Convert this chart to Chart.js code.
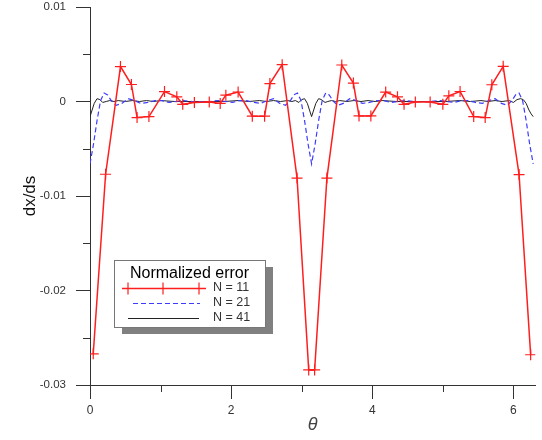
<!DOCTYPE html>
<html>
<head>
<meta charset="utf-8">
<script src="https://cdn.jsdelivr.net/npm/chart.js@4.4.1/dist/chart.umd.min.js"></script>
<style>
  body { margin: 0; background: #fff; }
  canvas { display: block; }
</style>
</head>
<body>
<canvas id="errChart" width="542" height="440"></canvas>
<script>
// N = 11 (sample points, with + markers)
var n11X = [0.046, 0.221, 0.432, 0.587, 0.667, 0.835, 1.056, 1.23, 1.314, 1.479,
            1.69, 1.845, 1.925, 2.099, 2.3, 2.474, 2.549, 2.723, 2.934, 3.099,
            3.183, 3.357, 3.568, 3.732, 3.812, 3.98, 4.19, 4.357, 4.45, 4.61,
            4.82, 5.0, 5.085, 5.244, 5.437, 5.6, 5.694, 5.855, 6.08, 6.244];
var n11Y = [-0.0267, -0.0077, 0.0037, 0.0018, -0.0017, -0.0016, 0.00105, 0.0005, -0.0003, -0.0001,
            -0.00005, -0.0002, 0.00067, 0.001, -0.00155, -0.00155, 0.0019, 0.0039, -0.0081, -0.0284,
            -0.0284, -0.0081, 0.00386, 0.00195, -0.00153, -0.00153, 0.001, 0.0005, -0.0003, -0.00005,
            -0.00005, -0.0003, 0.0006, 0.00106, -0.0016, -0.0017, 0.00177, 0.00372, -0.00773, -0.0268];

// N = 21 (dashed blue)
var n21X = [0, 0.05, 0.1, 0.15, 0.2, 0.25, 0.3, 0.37, 0.45, 0.54, 0.63, 0.72, 0.82, 0.92, 1.02, 1.12, 1.22, 1.32, 1.45, 1.57,
            1.69, 1.82, 1.92, 2.02, 2.12, 2.22, 2.32, 2.42, 2.51, 2.6, 2.69, 2.77, 2.84, 2.89, 2.94, 2.99, 3.04, 3.09, 3.14,
            3.19, 3.24, 3.29, 3.34, 3.39, 3.44, 3.51, 3.59, 3.68, 3.77, 3.86, 3.96, 4.06, 4.16, 4.26, 4.36, 4.46, 4.59, 4.71,
            4.83, 4.96, 5.06, 5.16, 5.26, 5.36, 5.46, 5.56, 5.65, 5.74, 5.83, 5.91, 5.98, 6.03, 6.08, 6.13, 6.18, 6.23, 6.28];
var n21Y = [-0.0066, -0.0045, -0.002, 0.0001, 0.0009, 0.0007, 0.0001, -0.0004, -0.0002, 0.0003, 0.0001, -0.0002, -0.0001, 0.0001, 0.0001, -0.0001, 0, 0.0001, 0, 0,
            0, 0.0001, 0, -0.0001, 0.0001, 0.0001, -0.0001, -0.0002, 0.0001, 0.0003, -0.0002, -0.0004, 0.0001, 0.0007, 0.0009, 0.0001, -0.002, -0.0045, -0.0066,
            -0.0045, -0.002, 0.0001, 0.0009, 0.0007, 0.0001, -0.0004, -0.0002, 0.0003, 0.0001, -0.0002, -0.0001, 0.0001, 0.0001, -0.0001, 0, 0.0001, 0, 0,
            0, 0.0001, 0, -0.0001, 0.0001, 0.0001, -0.0001, -0.0002, 0.0001, 0.0003, -0.0002, -0.0004, 0.0001, 0.0007, 0.0009, 0.0001, -0.002, -0.0045, -0.0066];

// N = 41 (solid black)
var n41X = [0, 0.03, 0.06, 0.1, 0.14, 0.18, 0.23, 0.28, 0.34, 0.4, 0.5, 0.6, 0.7, 0.8, 0.9, 1.0, 1.2, 1.57,
            1.9, 2.1, 2.25, 2.4, 2.5, 2.6, 2.7, 2.8, 2.86, 2.91, 2.96, 3.0, 3.04, 3.08, 3.11, 3.14,
            3.17, 3.2, 3.24, 3.28, 3.33, 3.37, 3.42, 3.48, 3.54, 3.64, 3.74, 3.84, 3.94, 4.04, 4.14, 4.34, 4.71,
            5.04, 5.24, 5.39, 5.54, 5.64, 5.74, 5.84, 5.94, 6.0, 6.05, 6.1, 6.14, 6.18, 6.22, 6.25, 6.28];
var n41Y = [-0.0016, -0.0009, -0.0002, 0.0003, 0.0002, -0.0001, 0, 0.0001, 0, 0.0001, 0, 0.0001, 0, 0.0001, 0, 0.0001, 0, 0,
            0, 0.0001, 0, 0.0001, 0, 0.0001, 0, 0.0001, 0, 0.0001, -0.0001, 0.0002, 0.0003, -0.0002, -0.0009, -0.0016,
            -0.0009, -0.0002, 0.0003, 0.0002, -0.0001, 0, 0.0001, 0, 0.0001, 0, 0.0001, 0, 0.0001, 0, 0.0001, 0, 0,
            0, 0.0001, 0, 0.0001, 0, 0.0001, 0, 0.0001, -0.0001, 0.0002, 0.0003, 0.0002, -0.0002, -0.0009, -0.0013, -0.0016];

var xTicks = [0, 2, 4, 6],
    xMinorTicks = [1, 3, 5],
    yTicks = [0.01, 0, -0.01, -0.02, -0.03],
    yMinorTicks = [0.005, -0.005, -0.015, -0.025],
    yTickLabels = ['0.01', '0', '-0.01', '-0.02', '-0.03'];

var seriesNames = ['N = 11', 'N = 21', 'N = 41'];

function toPoints(xs, ys) {
    var pts = [];
    for (var i = 0; i < xs.length; i++) {
        pts.push({x: xs[i], y: ys[i]});
    }
    return pts;
}

var axisColor = '#333';

// 次刻度线 (minor ticks)
var minorTicks = {
    id: 'minorTicks',
    afterDraw: function(chart) {
        var c = chart.ctx, xs = chart.scales.x, ys = chart.scales.y;
        c.save();
        c.strokeStyle = axisColor;
        c.lineWidth = 1;
        c.beginPath();
        xMinorTicks.forEach(function(v) {
            var px = Math.round(xs.getPixelForValue(v)) + 0.5;
            c.moveTo(px, xs.top);
            c.lineTo(px, xs.top + 7);
        });
        yMinorTicks.forEach(function(v) {
            var py = Math.round(ys.getPixelForValue(v)) + 0.5;
            c.moveTo(ys.right - 7, py);
            c.lineTo(ys.right, py);
        });
        c.stroke();
        c.restore();
    }
};

// 图例 (legend box with shadow)
var legendBox = {
    id: 'legendBox',
    afterDraw: function(chart) {
        var c = chart.ctx, ds = chart.data.datasets;
        var bx = 114, by = 260, bw = 151, bh = 67;
        c.save();
        c.fillStyle = '#808080';
        c.fillRect(bx + 8, by + 7, bw, bh);
        c.fillStyle = '#fff';
        c.fillRect(bx, by, bw, bh);
        c.strokeStyle = '#777';
        c.lineWidth = 1;
        c.strokeRect(bx + 0.5, by + 0.5, bw, bh);

        c.fillStyle = '#000';
        c.font = '16px "Liberation Sans", Arial, sans-serif';
        c.textAlign = 'center';
        c.textBaseline = 'middle';
        c.fillText('Normalized error', bx + bw / 2, by + 14);

        var rows = [288, 303, 318];
        var segs = [[122, 206], [133, 200], [128, 199]];
        for (var i = 0; i < ds.length; i++) {
            var y = rows[i] + 0.5;
            c.strokeStyle = ds[i].borderColor;
            c.lineWidth = ds[i].borderWidth;
            c.setLineDash(ds[i].borderDash || []);
            c.beginPath();
            c.moveTo(segs[i][0], y);
            c.lineTo(segs[i][1], y);
            c.stroke();
            c.setLineDash([]);
            if (ds[i].pointRadius > 0) {
                c.strokeStyle = ds[i].pointBorderColor;
                c.lineWidth = ds[i].pointBorderWidth;
                [128, 163, 199].forEach(function(mx) {
                    Chart.helpers.drawPoint(c, {pointStyle: 'line', rotation: 90, radius: 6, borderWidth: ds[i].pointBorderWidth}, mx, y);
                });
            }
            c.fillStyle = '#333';
            c.font = '12.5px "Liberation Sans", Arial, sans-serif';
            c.textAlign = 'left';
            c.fillText(seriesNames[i], 213, rows[i]);
        }
        c.restore();
    }
};

function noEdgePadding(s) {
    s.paddingTop = 0;
    s.paddingBottom = 0;
    s.paddingLeft = 0;
    s.paddingRight = 0;
}

var ctx = document.getElementById('errChart').getContext('2d');
new Chart(ctx, {
    type: 'scatter',
    data: {
        datasets: [
            {
                label: seriesNames[0],
                data: toPoints(n11X, n11Y),
                showLine: true,
                borderColor: 'rgb(255,30,30)',
                borderWidth: 1.5,
                pointStyle: 'cross',
                pointRadius: 5.5,
                pointBorderColor: 'rgb(255,30,30)',
                pointBorderWidth: 1.2,
                order: 1
            },
            {
                label: seriesNames[1],
                data: toPoints(n21X, n21Y),
                showLine: true,
                borderColor: 'rgb(60,60,255)',
                borderWidth: 1.2,
                borderDash: [5, 3],
                pointRadius: 0,
                order: 2
            },
            {
                label: seriesNames[2],
                data: toPoints(n41X, n41Y),
                showLine: true,
                borderColor: '#222',
                borderWidth: 1,
                pointRadius: 0,
                order: 3
            }
        ]
    },
    options: {
        responsive: false,
        animation: false,
        layout: { padding: { top: 7, right: 4, left: 0, bottom: 0 } },
        plugins: {
            legend: { display: false },
            tooltip: { enabled: false }
        },
        scales: {
            x: {
                type: 'linear',
                min: 0,
                max: 6.31,
                afterBuildTicks: function(s) { s.ticks = xTicks.map(function(v) { return {value: v}; }); },
                afterFit: function(s) { s.height = 55; noEdgePadding(s); },
                grid: { drawOnChartArea: false, tickLength: 14, color: axisColor },
                border: { color: axisColor, width: 1 },
                ticks: {
                    color: '#333',
                    padding: 4,
                    maxRotation: 0,
                    font: { family: '"Liberation Sans", Arial, sans-serif', size: 12 }
                },
                title: {
                    display: true,
                    text: 'θ',
                    color: '#444',
                    padding: { top: 0, bottom: 4 },
                    font: { family: '"Liberation Sans", Arial, sans-serif', size: 18, style: 'italic' }
                }
            },
            y: {
                min: -0.03,
                max: 0.01,
                afterBuildTicks: function(s) { s.ticks = yTicks.map(function(v) { return {value: v}; }); },
                afterFit: function(s) { s.width = 90; noEdgePadding(s); },
                grid: { drawOnChartArea: false, tickLength: 14, color: axisColor },
                border: { color: axisColor, width: 1 },
                ticks: {
                    color: '#333',
                    padding: 10,
                    font: { family: '"Liberation Sans", Arial, sans-serif', size: 11.5 },
                    callback: function(v) {
                        var i = yTicks.indexOf(v);
                        return i >= 0 ? yTickLabels[i] : '';
                    }
                },
                title: {
                    display: true,
                    text: 'dx/ds',
                    color: '#111',
                    padding: { top: 20, bottom: 0 },
                    font: { family: '"Liberation Sans", Arial, sans-serif', size: 17 }
                }
            }
        }
    },
    plugins: [minorTicks, legendBox]
});
</script>
</body>
</html>
